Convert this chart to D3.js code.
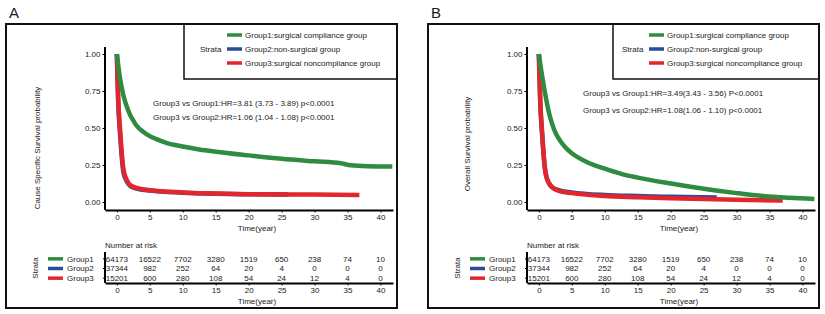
<!DOCTYPE html>
<html>
<head>
<meta charset="utf-8">
<script src="https://cdn.jsdelivr.net/npm/d3@7"></script>
<style>
  body { margin: 0; background: #fff; }
  svg text { font-family: "Liberation Sans", Arial, sans-serif; fill: #1a1a1a; }
</style>
</head>
<body>
<svg id="chart" width="825" height="314"></svg>
<script>
// survival curves (time in years, probability)
const timesA1 = [0, 0.25, 0.5, 1, 1.5, 2, 2.5, 3, 4, 5, 6, 7.5, 10, 12.5, 15, 20, 25, 30, 34, 35.5, 38, 41.8];
const survA1 = [1, 0.91, 0.83, 0.72, 0.645, 0.59, 0.55, 0.515, 0.475, 0.445, 0.425, 0.4, 0.375, 0.355, 0.34, 0.315, 0.292, 0.275, 0.262, 0.248, 0.242, 0.24];
const timesA2 = [0, 0.2, 0.5, 1, 1.5, 2, 3, 5, 10, 15, 20, 26];
const survA2 = [1, 0.68, 0.45, 0.2, 0.14, 0.11, 0.09, 0.077, 0.063, 0.056, 0.052, 0.05];
const timesA3 = [0, 0.2, 0.5, 1, 1.5, 2, 3, 5, 10, 15, 20, 30, 36.8];
const survA3 = [1, 0.7, 0.48, 0.22, 0.15, 0.115, 0.095, 0.08, 0.065, 0.058, 0.053, 0.05, 0.048];

const timesB1 = [0, 0.5, 1, 1.5, 2, 2.5, 3, 4, 5, 6, 7.5, 10, 12.5, 15, 20, 25, 30, 34, 38, 41.8];
const survB1 = [1, 0.85, 0.72, 0.61, 0.53, 0.47, 0.43, 0.37, 0.33, 0.3, 0.265, 0.225, 0.19, 0.165, 0.125, 0.09, 0.06, 0.04, 0.028, 0.02];
const timesB2 = [0, 0.2, 0.5, 1, 1.5, 2, 3, 5, 10, 15, 20, 27];
const survB2 = [1, 0.68, 0.45, 0.2, 0.13, 0.1, 0.08, 0.065, 0.047, 0.04, 0.035, 0.03];
const timesB3 = [0, 0.2, 0.5, 1, 1.5, 2, 3, 5, 10, 15, 20, 30, 37];
const survB3 = [1, 0.7, 0.47, 0.2, 0.13, 0.1, 0.075, 0.06, 0.04, 0.032, 0.025, 0.015, 0.01];

const groupNames = ["Group1", "Group2", "Group3"];
const legendLabels = ["Group1:surgical compliance group", "Group2:non-surgical group", "Group3:surgical noncompliance group"];
const groupColors = ["#2e8b3f", "#2a4d9b", "#e3262c"];

const xTicks = [0, 5, 10, 15, 20, 25, 30, 35, 40];
const yTicks = [0, 0.25, 0.5, 0.75, 1];

const riskGroup1 = [64173, 16522, 7702, 3280, 1519, 650, 238, 74, 10];
const riskGroup2 = [37344, 982, 252, 64, 20, 4, 0, 0, 0];
const riskGroup3 = [15201, 600, 280, 108, 54, 24, 12, 4, 0];

const panels = [
  {
    letter: "A", dx: 0, legendLeft: 184,
    yTitle: "Cause Specific Survival probability", yTitleX: 40, yTitleY: 148,
    hrLines: ["Group3 vs Group1:HR=3.81 (3.73 - 3.89)  p<0.0001", "Group3 vs Group2:HR=1.06 (1.04 - 1.08)  p<0.0001"],
    hrX: 153, hrY: [106, 120],
    curves: [[timesA1, survA1], [timesA2, survA2], [timesA3, survA3]]
  },
  {
    letter: "B", dx: 422, legendLeft: 613,
    yTitle: "Overall Survival probability", yTitleX: 470, yTitleY: 144,
    hrLines: ["Group3 vs Group1:HR=3.49(3.43 - 3.56) P<0.0001", "Group3 vs Group2:HR=1.08(1.06 - 1.10) p<0.0001"],
    hrX: 583, hrY: [96, 113],
    curves: [[timesB1, survB1], [timesB2, survB2], [timesB3, survB3]]
  }
];

const svg = d3.select("#chart");
const riskRows = [riskGroup1, riskGroup2, riskGroup3];
const fs = "8px";

panels.forEach(p => {
  const g = svg.append("g").attr("transform", `translate(${p.dx},0)`);

  g.append("text")
    .attr("x", 9).attr("y", 18)
    .style("font-size", "15px")
    .text(p.letter);

  // outer frame
  g.append("rect")
    .attr("x", 6).attr("y", 24)
    .attr("width", 391).attr("height", 284)
    .attr("fill", "none").attr("stroke", "#111").attr("stroke-width", 2);

  // legend box
  const lx = p.legendLeft - p.dx;
  g.append("rect")
    .attr("x", lx).attr("y", 24)
    .attr("width", 397 - lx).attr("height", 55)
    .attr("fill", "none").attr("stroke", "#111").attr("stroke-width", 1.5);

  g.append("text")
    .attr("x", 200).attr("y", 51.5)
    .style("font-size", fs)
    .text("Strata");

  groupNames.forEach((name, i) => {
    const ly = 35 + i * 14;
    g.append("line")
      .attr("x1", 227).attr("x2", 242)
      .attr("y1", ly).attr("y2", ly)
      .attr("stroke", groupColors[i]).attr("stroke-width", 3.5);
    g.append("text")
      .attr("x", 245).attr("y", ly + 2.8)
      .style("font-size", fs)
      .text(legendLabels[i]);
  });

  // main plot
  const x = d3.scaleLinear().domain([-1.8, 41.9]).range([105, 393]);
  const y = d3.scaleLinear().domain([0, 1]).range([202, 54]);

  g.append("g")
    .attr("transform", "translate(0,210)")
    .call(d3.axisBottom(x).tickValues(xTicks).tickSize(2.5).tickSizeOuter(0).tickPadding(2))
    .call(a => a.select(".domain").attr("stroke-width", 2))
    .call(a => a.selectAll("text").style("font-size", fs).attr("fill", "#333"));

  g.append("g")
    .attr("transform", "translate(105,0)")
    .call(d3.axisLeft(y).tickValues(yTicks).tickFormat(d3.format(".2f")).tickSize(2.5).tickSizeOuter(0).tickPadding(2))
    .call(a => a.select(".domain").attr("d", "M0,47V210").attr("stroke-width", 2))
    .call(a => a.selectAll("text").style("font-size", fs).attr("fill", "#333"));

  g.append("text")
    .attr("x", 257).attr("y", 231)
    .attr("text-anchor", "middle")
    .style("font-size", fs)
    .text("Time(year)");

  g.append("text")
    .attr("transform", `translate(${p.yTitleX - p.dx},${p.yTitleY}) rotate(-90)`)
    .attr("text-anchor", "middle")
    .style("font-size", fs)
    .text(p.yTitle);

  const line = d3.line()
    .x(d => x(d[0]))
    .y(d => y(d[1]))
    .curve(d3.curveMonotoneX);

  [1, 2, 0].forEach(i => {
    const [ts, ss] = p.curves[i];
    g.append("path")
      .datum(ts.map((t, k) => [t, ss[k]]))
      .attr("d", line)
      .attr("fill", "none")
      .attr("stroke", groupColors[i])
      .attr("stroke-width", 4.5)
      .attr("stroke-linejoin", "round");
  });

  p.hrLines.forEach((t, i) => {
    g.append("text")
      .attr("x", p.hrX - p.dx).attr("y", p.hrY[i])
      .style("font-size", fs)
      .text(t);
  });

  // risk table
  g.append("text")
    .attr("x", 105).attr("y", 247.5)
    .style("font-size", fs)
    .text("Number at risk");

  const rowY = d3.scaleBand().domain(groupNames).range([254, 283]);

  g.append("g")
    .attr("transform", "translate(0,283)")
    .call(d3.axisBottom(x).tickValues(xTicks).tickSize(2.5).tickSizeOuter(0).tickPadding(2))
    .call(a => a.select(".domain").attr("stroke-width", 2))
    .call(a => a.selectAll("text").style("font-size", fs).attr("fill", "#333"));

  g.append("g")
    .attr("transform", "translate(105,0)")
    .call(d3.axisLeft(rowY).tickSize(2).tickSizeOuter(0).tickFormat(""))
    .call(a => a.select(".domain").attr("d", "M0,252V283").attr("stroke-width", 2));

  groupNames.forEach((name, i) => {
    const cy = rowY(name) + rowY.bandwidth() / 2;
    g.append("line")
      .attr("x1", 48).attr("x2", 63)
      .attr("y1", cy).attr("y2", cy)
      .attr("stroke", groupColors[i]).attr("stroke-width", 3.5);
    g.append("text")
      .attr("x", 67).attr("y", cy + 2.8)
      .style("font-size", fs)
      .text(name);
    g.selectAll(null)
      .data(riskRows[i])
      .enter()
      .append("text")
      .attr("x", (d, k) => x(xTicks[k]))
      .attr("y", cy + 2.8)
      .attr("text-anchor", "middle")
      .style("font-size", fs)
      .text(d => d);
  });

  g.append("text")
    .attr("transform", `translate(38,268) rotate(-90)`)
    .attr("text-anchor", "middle")
    .style("font-size", fs)
    .text("Strata");

  g.append("text")
    .attr("x", 257).attr("y", 304)
    .attr("text-anchor", "middle")
    .style("font-size", fs)
    .text("Time(year)");
});
</script>
</body>
</html>
